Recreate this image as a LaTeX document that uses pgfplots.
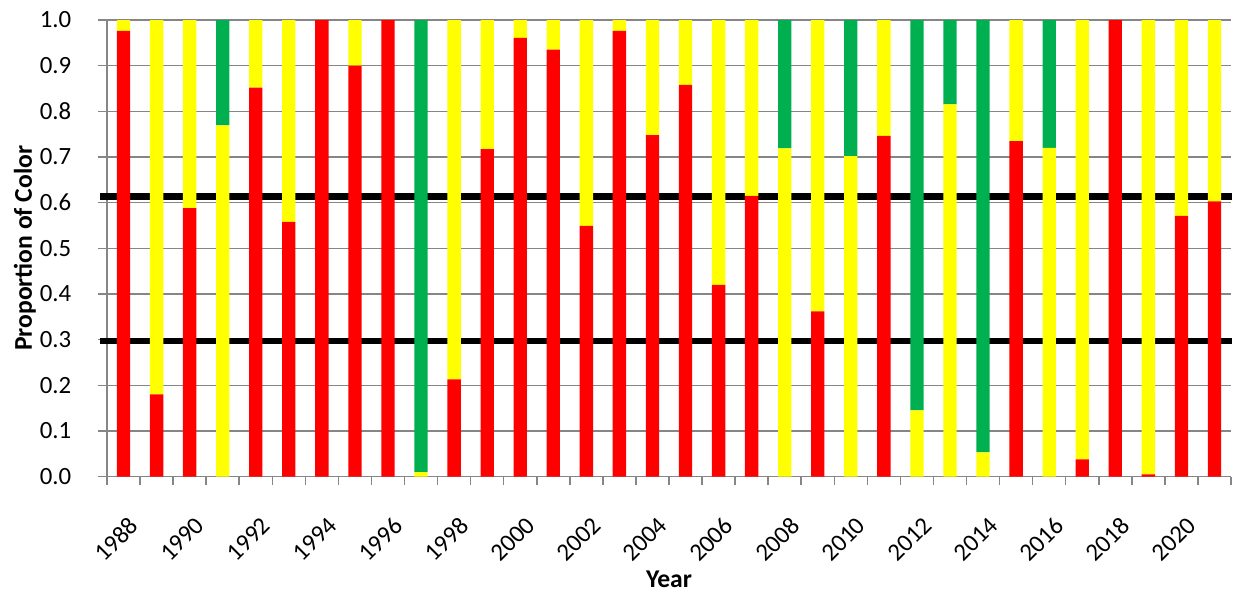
\documentclass[border=0pt]{standalone}
\usepackage{fontspec}
\setmainfont{Carlito}
\usepackage{pgfplots}
\usepackage{pgfplotstable}
\pgfplotsset{compat=1.18}

\definecolor{cred}{RGB}{255,0,0}
\definecolor{cyellow}{RGB}{255,255,0}
\definecolor{cgreen}{RGB}{0,176,80}
\definecolor{axgray}{RGB}{134,134,134}

% proportion of each colour per year
\pgfplotstableread{
idx year red yellow green
0  1988 0.976 0.024 0
1  1989 0.180 0.820 0
2  1990 0.588 0.412 0
3  1991 0     0.769 0.231
4  1992 0.852 0.148 0
5  1993 0.558 0.442 0
6  1994 1     0     0
7  1995 0.900 0.100 0
8  1996 1     0     0
9  1997 0     0.010 0.990
10 1998 0.213 0.787 0
11 1999 0.717 0.283 0
12 2000 0.961 0.039 0
13 2001 0.935 0.065 0
14 2002 0.549 0.451 0
15 2003 0.976 0.024 0
16 2004 0.748 0.252 0
17 2005 0.858 0.142 0
18 2006 0.420 0.580 0
19 2007 0.615 0.385 0
20 2008 0     0.719 0.281
21 2009 0.362 0.638 0
22 2010 0     0.702 0.298
23 2011 0.746 0.254 0
24 2012 0     0.145 0.855
25 2013 0     0.815 0.185
26 2014 0     0.053 0.947
27 2015 0.735 0.265 0
28 2016 0     0.720 0.280
29 2017 0.038 0.962 0
30 2018 1     0     0
31 2019 0.005 0.995 0
32 2020 0.571 0.429 0
33 2021 0.603 0.397 0
}\colors

\newcommand\tickfont{\fontsize{12.4}{14}\selectfont}

\begin{document}
\begin{tikzpicture}[font=\tickfont]
\path[use as bounding box] (-53.5pt,-57.2pt) rectangle (565pt,238.3pt);
\begin{axis}[
    at={(0,0)}, anchor=south west,
    width=562pt, height=228.3pt, scale only axis,
    ybar stacked, bar width=6.67pt,
    xmin=-0.5, xmax=33.5, ymin=0, ymax=1,
    clip=false,
    axis x line*=bottom, axis y line*=left,
    axis line style={-, draw=axgray, line width=0.75pt},
    tick align=outside,
    major tick length=4.5pt, minor tick length=4pt,
    tick style={axgray, line width=0.75pt},
    tick label style={font=\tickfont},
    label style={font=\fontsize{12.8}{15}\selectfont\bfseries, inner sep=0pt},
    xtick={0,2,...,32},
    xticklabels={1988,1990,1992,1994,1996,1998,2000,2002,2004,2006,2008,2010,2012,2014,2016,2018,2020},
    minor xtick={-0.5,0.5,...,33.5},
    major x tick style={draw=none},
    xticklabel style={xshift=5.3pt, yshift=-17.8pt, rotate=45, anchor=east, inner sep=0pt},
    ytick={0,0.1,0.2,0.3,0.4,0.5,0.6,0.7,0.8,0.9,1.0},
    yticklabel style={/pgf/number format/fixed, /pgf/number format/fixed zerofill,
        /pgf/number format/precision=1, anchor=east, inner sep=0pt, xshift=-13.2pt},
    /pgf/number format/assume math mode=true,
    ymajorgrids,
    major grid style={axgray, line width=0.75pt},
    xlabel={Year},
    ylabel={Proportion of Color},
    xlabel style={at={(axis description cs:0.5,-0.225)}, anchor=center},
    ylabel style={at={(axis description cs:-0.073,0.5)}, rotate=0, anchor=center},
]
\addplot[fill=cred, draw=none] table[x=idx, y=red] {\colors};
\addplot[fill=cyellow, draw=none] table[x=idx, y=yellow] {\colors};
\addplot[fill=cgreen, draw=none] table[x=idx, y=green] {\colors};
\addplot[sharp plot, stack plots=false, black, line width=3.3pt, mark=none, forget plot]
    coordinates {(-0.71,0.613) (33.53,0.613)};
\addplot[sharp plot, stack plots=false, black, line width=3.3pt, mark=none, forget plot]
    coordinates {(-0.71,0.297) (33.53,0.297)};
\end{axis}
\end{tikzpicture}
\end{document}
